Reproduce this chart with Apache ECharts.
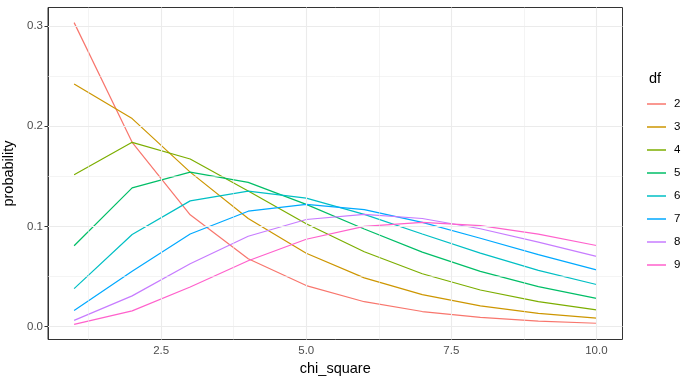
<!DOCTYPE html>
<html><head><meta charset="utf-8">
<script src="https://cdn.jsdelivr.net/npm/echarts@6/dist/echarts.min.js"></script>
<style>html,body{margin:0;padding:0;background:#fff}#c{width:697px;height:381px}</style>
</head><body><div id="c"></div>
<script>
const chiSquare = [1,2,3,4,5,6,7,8,9,10];
const dfLevels = ['2','3','4','5','6','7','8','9'];
const df2 = [0.3033,0.1839,0.1116,0.0677,0.0410,0.0249,0.0151,0.0092,0.0056,0.0034];
const df3 = [0.2420,0.2076,0.1542,0.1080,0.0732,0.0487,0.0319,0.0207,0.0133,0.0085];
const df4 = [0.1516,0.1839,0.1673,0.1353,0.1026,0.0747,0.0528,0.0366,0.0250,0.0168];
const df5 = [0.0807,0.1384,0.1542,0.1440,0.1220,0.0974,0.0744,0.0551,0.0399,0.0283];
const df6 = [0.0379,0.0920,0.1255,0.1353,0.1283,0.1120,0.0925,0.0733,0.0562,0.0421];
const df7 = [0.0161,0.0553,0.0925,0.1152,0.1220,0.1168,0.1041,0.0882,0.0718,0.0567];
const df8 = [0.0063,0.0307,0.0628,0.0902,0.1069,0.1120,0.1079,0.0977,0.0844,0.0702];
const df9 = [0.0023,0.0158,0.0396,0.0658,0.0872,0.1001,0.1041,0.1008,0.0923,0.0810];
const xTicks = [2.5,5.0,7.5,10.0];
const yTicks = [0.0,0.1,0.2,0.3];
const xMinor = [1.25,3.75,6.25,8.75];
const yMinor = [0.05,0.15,0.25];
const colors = ['#F8766D','#CD9600','#7CAE00','#00BE67','#00BFC4','#00A9FF','#C77CFF','#FF61CC'];
const allSeries = [df2,df3,df4,df5,df6,df7,df8,df9];

const font = 'Liberation Sans, Arial, sans-serif';
const gridLines = [];
xTicks.forEach(v=>gridLines.push({xAxis:v, lineStyle:{width:1.1}}));
yTicks.forEach(v=>gridLines.push({yAxis:v, lineStyle:{width:1.1}}));
xMinor.forEach(v=>gridLines.push({xAxis:v, lineStyle:{width:0.55}}));
yMinor.forEach(v=>gridLines.push({yAxis:v, lineStyle:{width:0.55}}));

const series = [{
  type:'line', data:[], silent:true, z:1,
  markLine:{silent:true, symbol:['none','none'], label:{show:false},
    lineStyle:{color:'#EBEBEB', type:'solid'}, emphasis:{disabled:true}, animation:false, data:gridLines}
}];
allSeries.forEach((s,i)=>{
  series.push({
    name: dfLevels[i], type:'line', z:3,
    data: chiSquare.map((x,j)=>[x,s[j]]),
    showSymbol:false, symbol:'none',
    lineStyle:{color:colors[i], width:1.2}, itemStyle:{color:colors[i]},
    emphasis:{disabled:true}
  });
});

const chart = echarts.init(document.getElementById('c'), null, {renderer:'canvas'});
chart.setOption({
  animation:false,
  backgroundColor:'#fff',
  textStyle:{fontFamily:font},
  grid:{left:48, right:74.5, top:7.5, bottom:41.5, outerBoundsMode:'none', containLabel:false, show:true, borderColor:'#333333', borderWidth:1, backgroundColor:'#fff', z:0},
  xAxis:{type:'value', min:0.55, max:10.45, name:'chi_square', nameLocation:'middle', nameGap:21,
    nameTextStyle:{fontSize:14.5, color:'#000', fontFamily:font},
    axisLine:{show:true, lineStyle:{color:'#333333', width:1}}, splitLine:{show:false},
    axisTick:{show:true, customValues:xTicks, length:3.5, lineStyle:{color:'#333333', width:1}},
    axisLabel:{customValues:xTicks, fontSize:11.5, color:'#4D4D4D', margin:5, fontFamily:font, formatter:v=>v.toFixed(1)}
  },
  yAxis:{type:'value', min:-0.0128, max:0.3184, name:'probability', nameLocation:'middle', nameGap:23,
    nameTextStyle:{fontSize:14.5, color:'#000', fontFamily:font},
    axisLine:{show:true, lineStyle:{color:'#333333', width:1}}, splitLine:{show:false},
    axisTick:{show:true, customValues:yTicks, length:3.5, lineStyle:{color:'#333333', width:1}},
    axisLabel:{customValues:yTicks, fontSize:11.5, color:'#4D4D4D', margin:5, fontFamily:font, formatter:v=>v.toFixed(1)}
  },
  title:{text:'df', left:644, top:66, textStyle:{fontSize:14.5, fontWeight:'normal', color:'#000', fontFamily:font}},
  legend:{orient:'vertical', left:642, top:92, itemWidth:19, itemHeight:1.5, itemGap:9.0, icon:'rect',
    textStyle:{fontSize:11.5, color:'#000', fontFamily:font, lineHeight:14, padding:[0,0,0,3]},
    data: dfLevels, selectedMode:false},
  series: series
});
</script></body></html>
